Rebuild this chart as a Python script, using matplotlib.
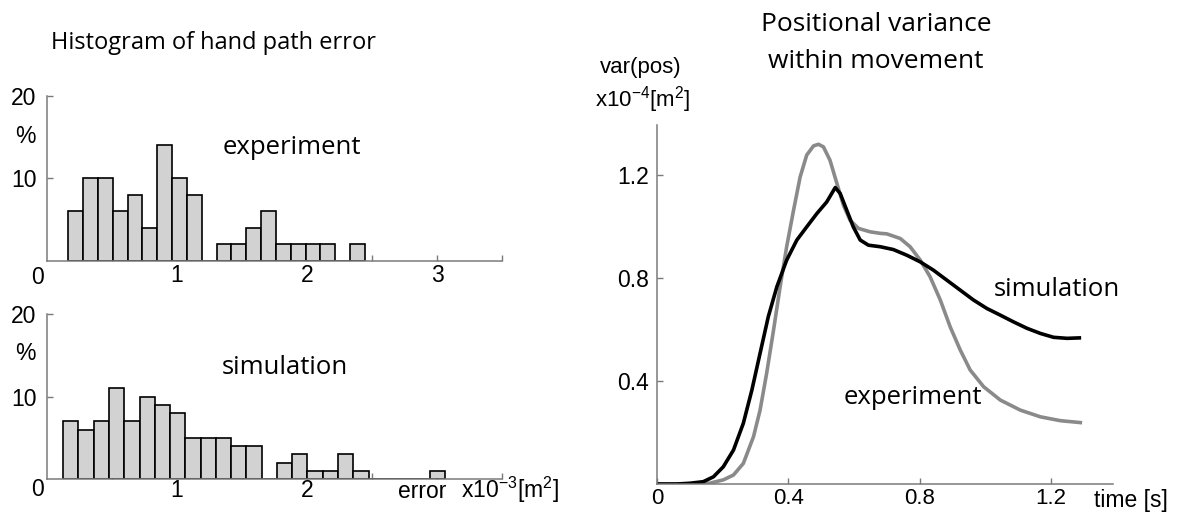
import matplotlib
matplotlib.use("Agg")
import matplotlib.pyplot as plt
import numpy as np

# ---- histogram of hand path error (x10^-3 m^2), percentage per bin ----
exp_bin_start = 0.165
exp_bin_width = 0.114
exp_percent = [6, 10, 10, 6, 8, 4, 14, 10, 8, 0,
               2, 2, 4, 6, 2, 2, 2, 2, 0, 2]

sim_bin_start = 0.126
sim_bin_width = 0.1173
sim_percent = [7, 6, 7, 11, 7, 10, 9, 8, 5, 5, 5, 4, 4, 0,
               2, 3, 1, 1, 3, 1, 0, 0, 0, 0, 1]

hist_xticks = np.arange(0.5, 3.51, 0.5)
exp_xlabels = ["", "1", "", "2", "", "3", ""]
sim_xlabels = ["", "1", "", "2", "", "", ""]
hist_yticks = [10, 20]

# ---- positional variance within movement (x10^-4 m^2) ----
exp_time = [0.0, 0.10, 0.16, 0.202, 0.233, 0.263, 0.294, 0.314, 0.334, 0.355,
            0.375, 0.395, 0.416, 0.436, 0.456, 0.477, 0.492, 0.507, 0.527,
            0.548, 0.568, 0.588, 0.614, 0.649, 0.68, 0.70, 0.741, 0.771,
            0.802, 0.832, 0.863, 0.893, 0.924, 0.954, 0.995, 1.046, 1.107,
            1.168, 1.229, 1.295]
exp_var = [0.0, 0.0, 0.003, 0.016, 0.035, 0.08, 0.184, 0.287, 0.43, 0.598,
           0.766, 0.922, 1.064, 1.193, 1.278, 1.314, 1.32, 1.31, 1.258,
           1.168, 1.083, 1.025, 0.993, 0.98, 0.974, 0.972, 0.954, 0.922,
           0.87, 0.805, 0.715, 0.611, 0.52, 0.443, 0.378, 0.326, 0.287,
           0.261, 0.246, 0.238]

sim_time = [0.0, 0.06, 0.101, 0.141, 0.172, 0.202, 0.233, 0.263, 0.289, 0.314,
            0.339, 0.365, 0.395, 0.426, 0.456, 0.487, 0.517, 0.543, 0.558,
            0.578, 0.598, 0.619, 0.644, 0.68, 0.72, 0.761, 0.802, 0.842,
            0.883, 0.924, 0.964, 1.005, 1.046, 1.086, 1.127, 1.168, 1.208,
            1.249, 1.292]
sim_var = [0.0, 0.0, 0.003, 0.009, 0.028, 0.067, 0.132, 0.236, 0.365, 0.508,
           0.65, 0.766, 0.87, 0.948, 0.999, 1.051, 1.096, 1.152, 1.129,
           1.064, 0.999, 0.948, 0.928, 0.922, 0.911, 0.889, 0.863, 0.831,
           0.792, 0.753, 0.715, 0.682, 0.656, 0.63, 0.605, 0.585, 0.57,
           0.566, 0.568]

var_xticks = [0, 0.4, 0.8, 1.2]
var_xlabels = ["0", "0.4", "0.8", "1.2"]
var_yticks = [0.4, 0.8, 1.2]
var_ylabels = ["0.4", "0.8", "1.2"]

# ---- styling ----
W, H = 1183, 514
plt.rcParams["mathtext.fontset"] = "custom"
plt.rcParams["mathtext.rm"] = "Liberation Sans"
plt.rcParams["mathtext.it"] = "Liberation Sans"
TICK_FONT = "Liberation Sans"
LABEL_FONT = "Open Sans"
SPINE = "#7a7a7a"
BAR_FACE = "#d2d2d2"
TICK_SIZE = 16.5
ANNOT_SIZE = 18.5

fig = plt.figure(figsize=(W / 100, H / 100), dpi=100)


def px_rect(left, top, right, bottom):
    return [left / W, 1 - bottom / H, (right - left) / W, (bottom - top) / H]


def fx(x):
    return x / W


def fy(y):
    return 1 - y / H


def style_axes(ax, xpad, ypad, xsize=TICK_SIZE):
    for side in ("top", "right"):
        ax.spines[side].set_visible(False)
    for side in ("left", "bottom"):
        ax.spines[side].set_color(SPINE)
        ax.spines[side].set_linewidth(1.1)
    ax.tick_params(direction="in", length=4, width=1.0, color=SPINE,
                   labelsize=TICK_SIZE)
    ax.tick_params(axis="x", pad=xpad, labelsize=xsize)
    ax.tick_params(axis="y", pad=ypad)
    for lab in ax.get_xticklabels() + ax.get_yticklabels():
        lab.set_fontfamily(TICK_FONT)


def draw_hist(ax, start, width, values, xlabels, xpad):
    lefts = [start + i * width for i in range(len(values))]
    ax.bar(lefts, values, width=width, align="edge", color=BAR_FACE,
           edgecolor="black", linewidth=1.2, zorder=2)
    ax.set_xlim(0, 3.5)
    ax.set_ylim(0, 20)
    ax.set_axisbelow(True)
    ax.set_xticks(hist_xticks)
    ax.set_xticklabels(xlabels)
    ax.set_yticks(hist_yticks)
    ax.set_yticklabels([str(v) for v in hist_yticks])
    style_axes(ax, xpad, 7.5)


# top histogram: experiment
ax1 = fig.add_axes(px_rect(46.8, 95.7, 502.3, 261))
draw_hist(ax1, exp_bin_start, exp_bin_width, exp_percent, exp_xlabels, 2.5)

# bottom histogram: simulation
ax2 = fig.add_axes(px_rect(46.8, 314, 502.3, 479))
draw_hist(ax2, sim_bin_start, sim_bin_width, sim_percent, sim_xlabels, 0.3)

# variance over time
ax3 = fig.add_axes(px_rect(657, 125, 1113.3, 484))
ax3.plot(exp_time, exp_var, color="#8a8a8a", linewidth=2.6,
         solid_joinstyle="round", solid_capstyle="butt")
ax3.plot(sim_time, sim_var, color="black", linewidth=2.6,
         solid_joinstyle="round", solid_capstyle="butt")
ax3.set_xlim(0, 1.39)
ax3.set_ylim(0, 1.395)
ax3.set_xticks(var_xticks)
ax3.set_xticklabels(var_xlabels)
ax3.set_yticks(var_yticks)
ax3.set_yticklabels(var_ylabels)
style_axes(ax3, 3.0, 5.5, xsize=16)

# ---- text ----
tk = dict(fontfamily=TICK_FONT, fontsize=TICK_SIZE)
lb = dict(fontfamily=LABEL_FONT, fontsize=ANNOT_SIZE)

fig.text(fx(51), fy(43), "Histogram of hand path error", ha="left", va="center",
         fontfamily=LABEL_FONT, fontsize=17)
fig.text(fx(876), fy(24), "Positional variance", ha="center", va="center",
         fontfamily=LABEL_FONT, fontsize=19)
fig.text(fx(876), fy(61), "within movement", ha="center", va="center",
         fontfamily=LABEL_FONT, fontsize=19)

fig.text(fx(292), fy(147), "experiment", ha="center", va="center", **lb)
fig.text(fx(285), fy(367), "simulation", ha="center", va="center", **lb)

fig.text(fx(25), fy(137), "%", ha="center", va="center", **tk)
fig.text(fx(25), fy(353), "%", ha="center", va="center", **tk)
fig.text(fx(38), fy(277), "0", ha="center", va="center", **tk)
fig.text(fx(37), fy(490), "0", ha="center", va="center", **tk)

fig.text(fx(422), fy(491), "error", ha="center", va="center",
         fontfamily=TICK_FONT, fontsize=16.5)
fig.text(fx(461), fy(490), r"x10$^{-3}$[m$^{2}$]", ha="left", va="center",
         fontfamily=TICK_FONT, fontsize=16.5)

fig.text(fx(641), fy(68), "var(pos)", ha="center", va="center",
         fontfamily=TICK_FONT, fontsize=16)
fig.text(fx(643), fy(100), r"x10$^{-4}$[m$^{2}$]", ha="center", va="center",
         fontfamily=TICK_FONT, fontsize=16)
fig.text(fx(1094), fy(500), "time [s]", ha="left", va="center",
         fontfamily=TICK_FONT, fontsize=16.5)

fig.text(fx(1057), fy(290), "simulation", ha="center", va="center", **lb)
fig.text(fx(913), fy(397), "experiment", ha="center", va="center", **lb)

fig.savefig("out.png", dpi=100, facecolor="white")
